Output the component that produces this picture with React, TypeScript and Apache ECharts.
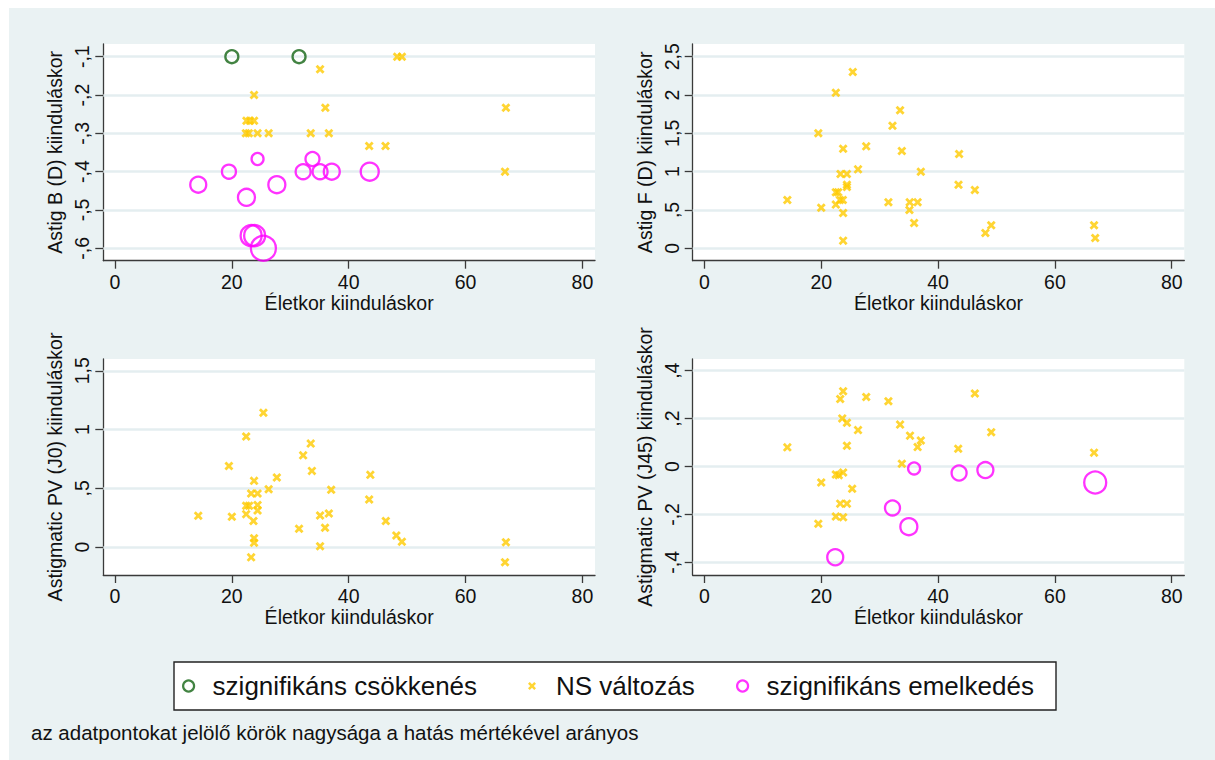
import React, { useEffect, useRef } from "react";
import * as echarts from "echarts";

const FONT = "'Liberation Sans', Arial, Helvetica, sans-serif";
const TXT = "#111111";
const GOLD = "#ffca00";
const MAGENTA = "#ff00ff";
const GREEN = "#136413";
const BG = "#eaf2f3";
const GRIDLINE = "#e4eef0";

const DEC = "szignifikáns csökkenés";
const NS = "NS változás";
const INC = "szignifikáns emelkedés";

const xTitle = "Életkor kiinduláskor";
const xTicks = [0, 20, 40, 60, 80];

// panel y titles and tick values
const yTitles = [
  "Astig B (D) kiinduláskor",
  "Astig F (D) kiinduláskor",
  "Astigmatic PV (J0) kiinduláskor",
  "Astigmatic PV (J45) kiinduláskor",
];
const astigB_yTicks = [-0.6, -0.5, -0.4, -0.3, -0.2, -0.1];
const astigF_yTicks = [0, 0.5, 1, 1.5, 2, 2.5];
const j0_yTicks = [0, 0.5, 1, 1.5];
const j45_yTicks = [-0.4, -0.2, 0, 0.2, 0.4];

// [age, value]
const astigB_ns = [
  [48.3, -0.1], [49.1, -0.1], [35.1, -0.133], [23.8, -0.2], [36.0, -0.233], [66.9, -0.233],
  [22.5, -0.267], [23.1, -0.267], [23.8, -0.267],
  [22.4, -0.3], [22.9, -0.3], [24.4, -0.3], [26.3, -0.3], [33.5, -0.3], [36.6, -0.3],
  [43.5, -0.333], [46.3, -0.333], [66.75, -0.4],
];
// [age, value, effect size (marker)]
const astigB_dec = [[20.0, -0.1, 13], [31.5, -0.1, 13]];
const astigB_inc = [
  [14.25, -0.434, 16], [19.5, -0.4, 14], [24.4, -0.367, 12], [22.5, -0.467, 17],
  [27.7, -0.434, 17], [33.8, -0.367, 14], [32.2, -0.4, 15], [35.1, -0.4, 15],
  [37.1, -0.4, 16], [43.6, -0.4, 18], [23.3, -0.567, 21], [23.9, -0.567, 21], [25.4, -0.6, 25],
];

const astigF_ns = [
  [25.4, 2.3], [22.5, 2.03], [19.5, 1.5], [33.5, 1.8], [32.2, 1.6], [23.75, 1.3], [27.7, 1.33],
  [33.8, 1.27], [43.6, 1.23], [26.3, 1.03], [37.05, 1.0], [23.3, 0.97], [24.4, 0.97],
  [24.4, 0.83], [24.4, 0.8], [43.5, 0.83], [46.3, 0.76], [22.5, 0.73], [22.9, 0.73],
  [14.2, 0.63], [23.2, 0.63], [23.7, 0.63], [31.5, 0.6], [35.15, 0.6], [36.5, 0.6],
  [20.0, 0.53], [22.5, 0.57], [35.1, 0.5], [23.75, 0.46], [35.9, 0.33], [49.1, 0.3],
  [48.1, 0.2], [66.7, 0.3], [66.9, 0.135], [23.75, 0.1],
];

const j0_ns = [
  [25.4, 1.143], [22.45, 0.94], [33.5, 0.88], [32.2, 0.78], [19.5, 0.69], [33.7, 0.648],
  [43.7, 0.614], [27.7, 0.592], [23.8, 0.563], [26.3, 0.492], [37.0, 0.487], [23.3, 0.456],
  [24.4, 0.456], [43.5, 0.405], [22.45, 0.351], [22.95, 0.351], [24.4, 0.357], [22.45, 0.28],
  [24.4, 0.311], [14.25, 0.266], [20.0, 0.258], [35.1, 0.269], [36.6, 0.286], [23.7, 0.221],
  [46.35, 0.221], [31.5, 0.156], [35.95, 0.164], [48.15, 0.099], [23.8, 0.074], [23.8, 0.037],
  [49.1, 0.045], [66.9, 0.04], [35.1, 0.006], [23.3, -0.088], [66.75, -0.13],
];

const j45_ns = [
  [23.75, 0.314], [23.25, 0.282], [27.7, 0.29], [31.5, 0.273], [46.3, 0.305], [23.6, 0.201],
  [24.4, 0.183], [33.5, 0.175], [26.3, 0.152], [35.2, 0.129], [49.1, 0.143], [37.05, 0.109],
  [36.5, 0.081], [14.2, 0.08], [24.4, 0.087], [43.45, 0.074], [66.7, 0.058], [33.8, 0.012],
  [22.5, -0.033], [23.0, -0.036], [23.75, -0.025], [20.0, -0.067], [25.3, -0.093],
  [23.25, -0.155], [24.4, -0.155], [22.5, -0.209], [23.75, -0.212], [19.5, -0.239],
];
const j45_inc = [
  [35.9, -0.008, 12], [43.6, -0.027, 15], [48.1, -0.015, 16], [66.9, -0.067, 22],
  [32.2, -0.173, 15], [35.0, -0.251, 17], [22.4, -0.379, 16],
];

const X_SYMBOL = "path://M0,2.2L2.2,0L5,2.8L7.8,0L10,2.2L7.2,5L10,7.8L7.8,10L5,7.2L2.2,10L0,7.8L2.8,5Z";

function fmt(v: number): string {
  const r = Math.round(v * 10) / 10;
  if (Number.isInteger(r)) return String(r === 0 ? 0 : r);
  const s = r < 0 ? "-" : "";
  const a = Math.abs(r);
  const ip = Math.floor(a);
  const dec = Math.round((a - ip) * 10);
  return s + (ip ? String(ip) : "") + "," + dec;
}

export default function App() {
  const ref = useRef<HTMLDivElement>(null);
  useEffect(() => {
    if (!ref.current) return;
    const chart = echarts.init(ref.current, undefined, { renderer: "svg" });

    const grids = [
      { left: 103.3, top: 44, width: 491.7, height: 216.7 },
      { left: 692.7, top: 44, width: 491.6, height: 216.7 },
      { left: 103.3, top: 359, width: 491.7, height: 216 },
      { left: 692.7, top: 359, width: 491.6, height: 216 },
    ];
    const yRanges = [
      [-0.6324, -0.0669],
      [-0.1618, 2.6657],
      [-0.238, 1.6],
      [-0.453, 0.449],
    ];
    const yTickSets = [astigB_yTicks, astigF_yTicks, j0_yTicks, j45_yTicks];

    const axisLineStyle = { color: "#3a3a3a", width: 1.3 };

    const xAxis = grids.map((_, i) => ({
      type: "value",
      gridIndex: i,
      min: -2,
      max: 82.15,
      name: xTitle,
      nameLocation: "middle",
      nameGap: 31,
      nameTextStyle: { fontSize: 19.5, color: TXT, fontFamily: FONT },
      axisLine: { show: true, onZero: false, lineStyle: axisLineStyle },
      axisTick: { show: true, length: 8, lineStyle: axisLineStyle, customValues: xTicks },
      axisLabel: {
        customValues: xTicks,
        fontSize: 19.5,
        color: TXT,
        fontFamily: FONT,
        margin: 11,
      },
      splitLine: { show: false },
    }));

    const yAxis = grids.map((_, i) => ({
      type: "value",
      gridIndex: i,
      min: yRanges[i][0],
      max: yRanges[i][1],
      name: yTitles[i],
      nameLocation: "middle",
      nameGap: 38,
      nameTextStyle: { fontSize: 19.5, color: TXT, fontFamily: FONT },
      axisLine: { show: true, onZero: false, lineStyle: axisLineStyle },
      axisTick: { show: true, length: 8, lineStyle: axisLineStyle, customValues: yTickSets[i] },
      axisLabel: {
        customValues: yTickSets[i],
        rotate: 90,
        fontSize: 19.5,
        color: TXT,
        fontFamily: FONT,
        margin: 11,
        formatter: (v: number) => fmt(v),
      },
      splitLine: { show: false },
    }));

    const nsData = [astigB_ns, astigF_ns, j0_ns, j45_ns];
    const incData = [astigB_inc, [], [], j45_inc];
    const decData = [astigB_dec, [], [], []];

    const series: any[] = [];
    for (let i = 0; i < 4; i++) {
      // horizontal gridlines at the y ticks (drawn beneath the markers)
      series.push({
        type: "scatter",
        name: "grid" + i,
        xAxisIndex: i,
        yAxisIndex: i,
        data: [],
        z: 1,
        silent: true,
        markLine: {
          z: 1,
          silent: true,
          symbol: "none",
          label: { show: false },
          lineStyle: { color: GRIDLINE, width: 2.5, type: "solid" },
          emphasis: { disabled: true },
          data: yTickSets[i].map((v) => ({ yAxis: v })),
        },
      });
      series.push({
        type: "scatter",
        name: NS,
        xAxisIndex: i,
        yAxisIndex: i,
        data: nsData[i],
        symbol: X_SYMBOL,
        symbolKeepAspect: true,
        symbolSize: 9,
        itemStyle: { color: GOLD, borderWidth: 0 },
        z: 6,
      });
      if (incData[i].length) {
        series.push({
          type: "scatter",
          name: INC,
          xAxisIndex: i,
          yAxisIndex: i,
          data: incData[i],
          symbol: "circle",
          symbolSize: (v: number[]) => v[2],
          itemStyle: { color: "transparent", borderColor: MAGENTA, borderWidth: 2.3 },
          z: 7,
        });
      }
      if (decData[i].length) {
        series.push({
          type: "scatter",
          name: DEC,
          xAxisIndex: i,
          yAxisIndex: i,
          data: decData[i],
          symbol: "circle",
          symbolSize: (v: number[]) => v[2],
          itemStyle: { color: "transparent", borderColor: GREEN, borderWidth: 2.3 },
          z: 7,
        });
      }
    }

    const legendBase = {
      orient: "horizontal",
      top: 673,
      itemWidth: 38,
      padding: 0,
      itemGap: 0,
      selectedMode: false,
      textStyle: { fontSize: 26, color: TXT, fontFamily: FONT },
    };

    chart.setOption({
      animation: false,
      textStyle: { fontFamily: FONT },
      grid: grids.map((g) => ({
        ...g,
        show: true,
        backgroundColor: "#ffffff",
        borderWidth: 0,
        containLabel: false,
      })),
      xAxis,
      yAxis,
      series,
      legend: [
        {
          ...legendBase,
          left: 182,
          itemHeight: 11,
          data: [
            {
              name: DEC,
              icon: "circle",
              itemStyle: { color: "transparent", borderColor: GREEN, borderWidth: 2.2 },
            },
          ],
        },
        {
          ...legendBase,
          left: 528,
          itemHeight: 8,
          data: [{ name: NS, icon: X_SYMBOL, itemStyle: { color: GOLD, borderWidth: 0 } }],
        },
        {
          ...legendBase,
          left: 736,
          itemHeight: 11,
          data: [
            {
              name: INC,
              icon: "circle",
              itemStyle: { color: "transparent", borderColor: MAGENTA, borderWidth: 2.2 },
            },
          ],
        },
      ],
      graphic: [
        {
          type: "rect",
          z: -10,
          silent: true,
          shape: { x: 9, y: 8, width: 1206, height: 752 },
          style: { fill: BG },
        },
        {
          type: "rect",
          z: -5,
          silent: true,
          shape: { x: 174, y: 662, width: 882, height: 48 },
          style: { fill: "#ffffff", stroke: "#222222", lineWidth: 1.4 },
        },
        {
          type: "text",
          silent: true,
          x: 31,
          y: 732.3,
          style: {
            text: "az adatpontokat jelölő körök nagysága a hatás mértékével arányos",
            fill: TXT,
            fontSize: 20.5,
            fontFamily: FONT,
            verticalAlign: "middle",
          },
        },
      ],
    });

    return () => chart.dispose();
  }, []);

  return (
    <div
      ref={ref}
      style={{ position: "absolute", left: 0, top: 0, width: 1215, height: 760 }}
    />
  );
}
